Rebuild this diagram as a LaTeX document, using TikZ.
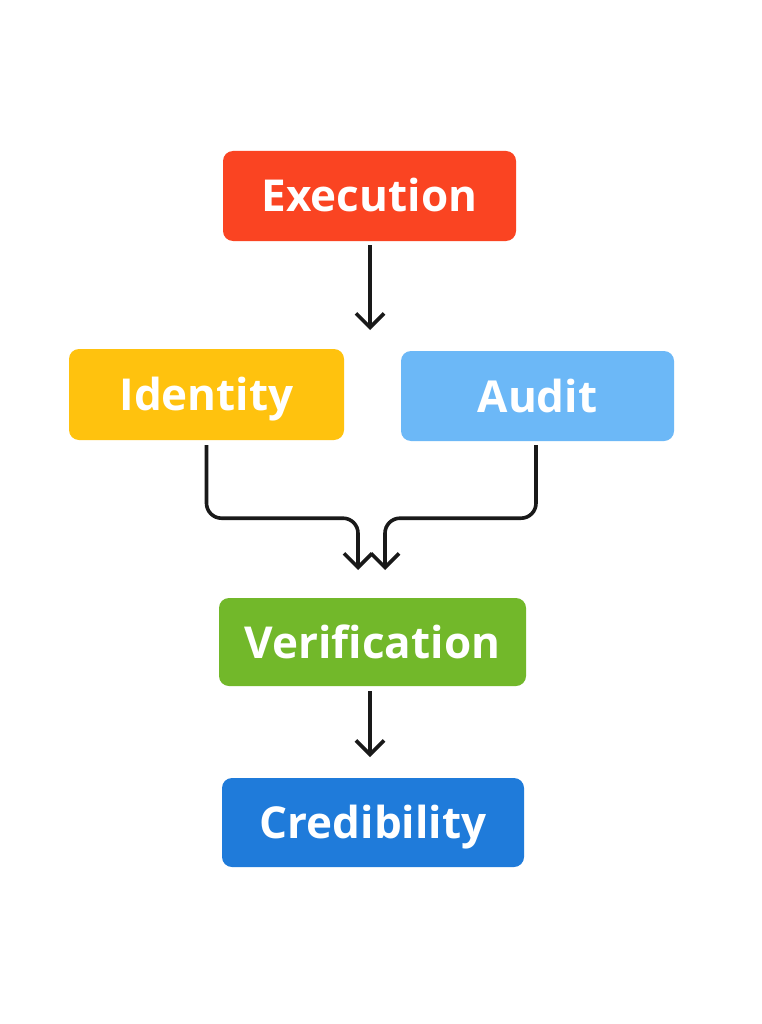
\documentclass[tikz,border=0pt]{standalone}
\usepackage{fontspec}
\setmainfont{Open Sans}
\usetikzlibrary{arrows.meta}
\definecolor{cexec}{HTML}{FA4422}
\definecolor{cident}{HTML}{FFC20E}
\definecolor{caudit}{HTML}{6CB8F7}
\definecolor{cverif}{HTML}{72B82A}
\definecolor{ccred}{HTML}{1F7BDA}
\tikzset{
  box/.style={rounded corners=10pt, inner sep=0pt, text=white, font=\fontsize{44}{52}\selectfont\bfseries, text height=32pt, text depth=0pt, anchor=center},
  conn/.style={line width=3.6pt, draw=black!90, rounded corners=15pt, -{Straight Barb[length=14pt,width=28pt,line width=3.6pt]}},
}
\begin{document}
\begin{tikzpicture}[x=1pt,y=-1pt]
\useasboundingbox[fill=white] (0,0) rectangle (761,1024);
\node[box, fill=cexec, minimum width=293pt, minimum height=90pt] (exec) at (369.5,196) {Execution};
\node[box, fill=cident, minimum width=275pt, minimum height=91pt] (ident) at (206.5,394.5) {Identity};
\node[box, fill=caudit, minimum width=273pt, minimum height=90pt] (audit) at (537.5,396) {Audit};
\node[box, fill=cverif, minimum width=307pt, minimum height=88pt] (verif) at (372.5,642) {Verification};
\node[box, fill=ccred, minimum width=302pt, minimum height=89pt] (cred) at (373,822.5) {Credibility};
\coordinate (ma) at (358,570);
\coordinate (mb) at (385,570);
\draw[conn] ([yshift=-4pt]exec.south -| 370,0) -- (370,330);
\draw[conn] ([yshift=-5pt]ident.south) -- ++(0,73) -| (ma);
\draw[conn] ([yshift=-5pt]ident.south -| 536,0) -- ++(0,73) -| (mb);
\draw[conn] ([yshift=-5pt]verif.south -| 370,0) -- (370,757);
\end{tikzpicture}
\end{document}
